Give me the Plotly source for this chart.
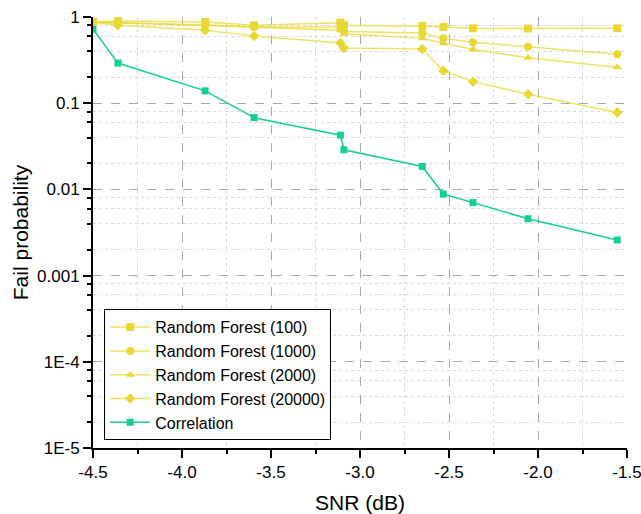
import plotly.graph_objects as go

snr = [-4.5, -4.36, -3.87, -3.595, -3.11, -3.09, -2.65, -2.532, -2.365, -2.056, -1.555]

rf100 = [0.875, 0.90, 0.875, 0.80, 0.86, 0.80, 0.787, 0.77, 0.74, 0.735, 0.74]
rf1000 = [0.875, 0.86, 0.81, 0.765, 0.765, 0.68, 0.652, 0.565, 0.508, 0.452, 0.369]
rf2000 = [0.87, 0.85, 0.80, 0.76, 0.70, 0.64, 0.565, 0.495, 0.42, 0.337, 0.262]
rf20000 = [0.87, 0.80, 0.70, 0.60, 0.50, 0.436, 0.425, 0.238, 0.178, 0.127, 0.078]
corr = [0.72, 0.292, 0.139, 0.068, 0.0426, 0.0288, 0.01845, 0.00884, 0.00702, 0.00457, 0.00259]

series_names = ["Random Forest (100)", "Random Forest (1000)", "Random Forest (2000)",
                "Random Forest (20000)", "Correlation"]
series_symbols = ["square", "circle", "triangle-up", "diamond", "square"]

x_tickvals = [-4.5, -4.0, -3.5, -3.0, -2.5, -2.0, -1.5]
x_ticktext = ["-4.5", "-4.0", "-3.5", "-3.0", "-2.5", "-2.0", "-1.5"]
y_tickvals = [1, 0.1, 0.01, 0.001, 1e-4, 1e-5]
y_ticktext = ["1", "0.1", "0.01", "0.001", "1E-4", "1E-5"]

y_minor = []
for d in range(-5, 0):
    for m in (2, 4, 6, 8):
        y_minor.append(m * 10 ** d)
x_minor = [-4.25, -3.75, -3.25, -2.75, -2.25, -1.75]

yellow_line = "rgba(232,216,50,0.75)"
yellow_mark = "#E8D832"
green = "#14D090"

fig = go.Figure()
data = [rf100, rf1000, rf2000, rf20000, corr]
for name, vals, sym in zip(series_names, data, series_symbols):
    if name == "Correlation":
        lc, mc, ms = green, green, 7
    else:
        lc, mc, ms = yellow_line, yellow_mark, 8
    fig.add_trace(go.Scatter(
        x=snr, y=vals, name=name, mode="lines+markers",
        line=dict(color=lc, width=1.5),
        marker=dict(symbol=sym, size=ms, color=mc),
    ))

font_family = "Liberation Sans, Arial, sans-serif"
fig.update_layout(
    width=641, height=514,
    margin=dict(l=93, r=14, t=17, b=66),
    paper_bgcolor="white", plot_bgcolor="white",
    font=dict(family=font_family, color="black"),
    showlegend=True,
    legend=dict(
        x=0.021, y=0.322, xanchor="left", yanchor="top",
        bordercolor="black", borderwidth=1, bgcolor="white",
        font=dict(size=16, family=font_family),
        tracegroupgap=0, itemwidth=40,
    ),
)
fig.update_xaxes(
    range=[-4.5, -1.5], automargin=False, ticklabeloverflow="allow",
    tickmode="array", tickvals=x_tickvals, ticktext=x_ticktext,
    tickfont=dict(size=17), ticks="outside", ticklen=8, tickwidth=1.5, tickcolor="black",
    showline=True, linecolor="black", linewidth=2,
    showgrid=True, gridcolor="#A8A8A8", griddash="dash", gridwidth=1,
    minor=dict(tickmode="array", tickvals=x_minor, ticks="outside", ticklen=4,
               tickwidth=1.5, tickcolor="black", showgrid=True,
               gridcolor="#D8D8D8", griddash="dot", gridwidth=1),
    title=dict(text="SNR (dB)", font=dict(size=21), standoff=14),
    zeroline=False,
)
fig.update_yaxes(
    type="log", range=[-5, 0], automargin=False, ticklabeloverflow="allow",
    tickmode="array", tickvals=y_tickvals, ticktext=y_ticktext,
    tickfont=dict(size=17), ticks="outside", ticklen=8, tickwidth=1.5, tickcolor="black",
    showline=True, linecolor="black", linewidth=2,
    showgrid=True, gridcolor="#A8A8A8", griddash="dash", gridwidth=1,
    minor=dict(tickmode="array", tickvals=y_minor, ticks="outside", ticklen=4,
               tickwidth=1.5, tickcolor="black", showgrid=True,
               gridcolor="#D8D8D8", griddash="dot", gridwidth=1),
    title=dict(text="Fail probability", font=dict(size=21), standoff=3),
    zeroline=False,
)

fig.write_html(
    "out.html",
    config={"displayModeBar": False},
    post_script="document.body.style.margin='0';document.body.style.overflow='hidden';",
)
